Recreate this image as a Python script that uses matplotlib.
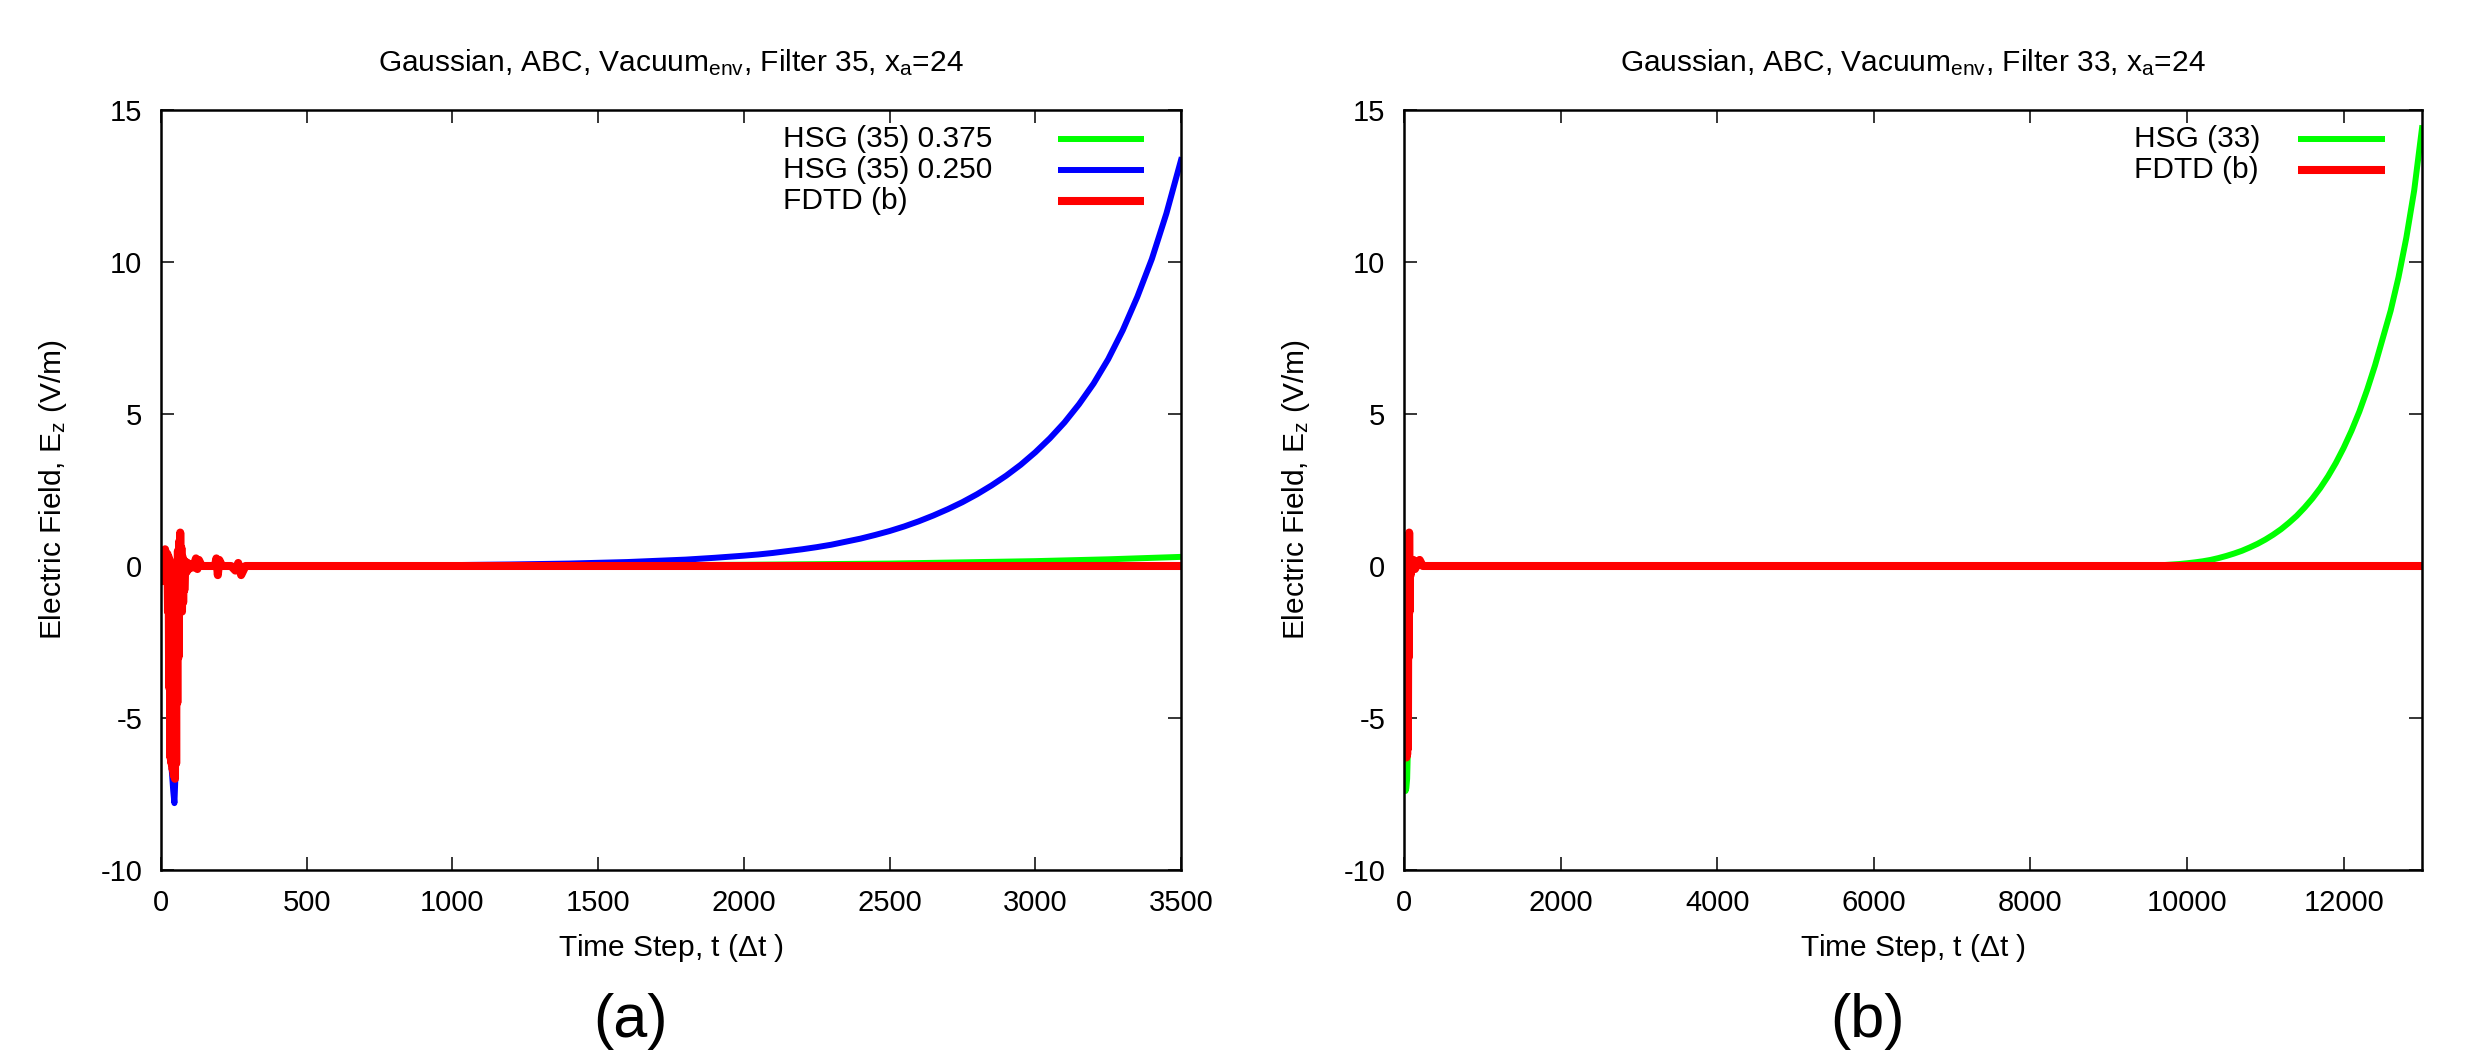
import matplotlib
matplotlib.use("Agg")
import matplotlib.pyplot as plt

plt.rcParams["font.family"] = ["Liberation Sans", "DejaVu Sans"]
plt.rcParams["font.size"] = 21
plt.rcParams["mathtext.fontset"] = "custom"
plt.rcParams["mathtext.rm"] = "Liberation Sans"
plt.rcParams["mathtext.it"] = "Liberation Sans:italic"
plt.rcParams["mathtext.default"] = "regular"
plt.rcParams["axes.unicode_minus"] = False

# ---- panel (a): filter 35, 0 .. 3500 time steps ----
# FDTD (b): fast oscillating transient near the source, then flat zero
fdtd_a_t = [0, 2, 4, 6, 8, 10, 12, 14, 16, 18, 20, 22, 24, 26, 28, 30, 32, 34, 36, 38,
            40, 42, 44, 46, 48, 50, 52, 54, 56, 58, 60, 62, 64, 66, 68, 70, 72, 74, 76, 78,
            80, 84, 88, 92, 96, 100, 110, 120, 125, 130, 140, 160, 185, 190, 195, 200,
            210, 240, 255, 265, 275, 290, 3500]
fdtd_a_e = [0.0, 0.45, -0.5, 0.35, -0.3, 0.5, -0.2, 0.55, -0.3, 0.3, -0.4, 0.4, -1.5, 0.3,
            -4.0, 0.2, -6.3, 0.0, -6.5, -0.5, -6.7, -0.8, -6.9, -1.0, -7.0, -1.2, -6.5, -0.5,
            -4.5, 0.5, -3.0, 0.8, -1.5, 1.1, -1.0, 0.6, -1.5, 0.3, -1.2, 0.1, -0.8, 0.15,
            -0.2, 0.1, -0.1, 0.05, -0.05, 0.25, -0.1, 0.2, 0.0, 0.0, 0.0, 0.25, -0.3, 0.2,
            0.0, 0.0, -0.15, 0.1, -0.3, 0.0, 0.0]

# HSG (35) 0.250 (blue)
hsg250_t = [0, 10, 20, 26, 30, 36, 42, 46, 50, 54, 60, 66, 72, 80, 100, 300, 600, 1000,
            1200, 1400, 1600, 1800, 1900, 2000, 2050, 2100, 2150, 2200, 2250, 2300, 2350,
            2400, 2450, 2500, 2550, 2600, 2650, 2700, 2750, 2800, 2850, 2900, 2950, 3000,
            3050, 3100, 3150, 3200, 3250, 3300, 3350, 3400, 3450, 3500]
hsg250_e = [0.0, 0.3, -0.3, -2.0, -5.5, -6.6, -7.4, -7.8, -6.8, -3.5, 0.5, 1.0, -1.2, 0.0,
            0.02, 0.0, 0.005, 0.03, 0.05, 0.08, 0.13, 0.21, 0.27, 0.34, 0.38, 0.43, 0.49,
            0.55, 0.62, 0.7, 0.8, 0.9, 1.02, 1.15, 1.3, 1.47, 1.66, 1.87, 2.1, 2.36, 2.65,
            2.97, 3.33, 3.74, 4.2, 4.72, 5.32, 6.0, 6.8, 7.75, 8.85, 10.1, 11.6, 13.35]

# HSG (35) 0.375 (green)
hsg375_t = [0, 10, 20, 26, 30, 36, 42, 46, 50, 54, 60, 66, 72, 80, 100, 500, 1000, 1500,
            2000, 2500, 3000, 3250, 3500]
hsg375_e = [0.0, 0.3, -0.3, -2.0, -5.3, -6.4, -7.0, -7.2, -6.5, -3.2, 0.4, 0.9, -1.0, 0.0,
            0.0, 0.0, 0.005, 0.02, 0.04, 0.08, 0.16, 0.22, 0.3]

# ---- panel (b): filter 33, 0 .. 13000 time steps ----
fdtd_b_t = [0, 5, 10, 15, 20, 25, 30, 35, 40, 45, 50, 55, 60, 66, 72, 78, 85, 100, 120,
            140, 160, 200, 240, 13000]
fdtd_b_e = [0.0, 0.4, -0.4, 0.5, -1.5, 0.2, -6.3, -0.5, -6.2, -1.0, -6.0, -0.5, -3.0, 1.1,
            -1.5, 0.2, -0.3, 0.1, 0.2, -0.1, 0.0, 0.2, 0.0, 0.0]

# HSG (33) (green)
hsg33_t = [0, 5, 10, 15, 20, 30, 40, 50, 60, 66, 72, 85, 100, 200, 2000, 6000, 8000, 9000,
           9500, 9700, 9900, 10000, 10100, 10200, 10300, 10400, 10500, 10600, 10700, 10800,
           10900, 11000, 11100, 11200, 11300, 11400, 11500, 11600, 11700, 11800, 11900,
           12000, 12100, 12200, 12300, 12400, 12500, 12600, 12700, 12800, 12900, 13000]
hsg33_e = [0.0, 0.4, -0.4, -3.0, -7.4, -7.3, -7.0, -6.0, -2.5, 1.0, -1.2, 0.0, 0.0, 0.0, 0.0,
           0.0, 0.0, 0.003, 0.01, 0.03, 0.065, 0.09, 0.12, 0.155, 0.2, 0.26, 0.33, 0.41,
           0.5, 0.61, 0.73, 0.87, 1.03, 1.21, 1.42, 1.65, 1.92, 2.22, 2.56, 2.95, 3.39,
           3.89, 4.45, 5.08, 5.8, 6.6, 7.5, 8.4, 9.5, 10.8, 12.35, 14.4]

GREEN = "#00ff00"
BLUE = "#0000ff"
RED = "#ff0000"
LW_HSG = 4.3
LW_FDTD = 5.8


def draw_key(ax, text_x, line_x0, line_x1, top_y, step):
    # gnuplot style key: left justified labels, samples to the right
    for i, line in enumerate(ax.get_lines()):
        y = top_y - i * step
        ax.text(text_x, y, line.get_label(), transform=ax.transAxes,
                ha="left", va="center", fontsize=21.5)
        ax.plot([line_x0, line_x1], [y, y], transform=ax.transAxes,
                color=line.get_color(), lw=line.get_linewidth(), clip_on=False,
                solid_capstyle="butt")


fig = plt.figure(figsize=(24.65, 10.6), dpi=100)
ax_a = fig.add_axes([161 / 2465, 1 - 870 / 1060, 1020 / 2465, 760 / 1060])
ax_b = fig.add_axes([1404 / 2465, 1 - 870 / 1060, 1018 / 2465, 760 / 1060])

ax_a.plot(hsg375_t, hsg375_e, color=GREEN, lw=LW_HSG, label="HSG (35) 0.375")
ax_a.plot(hsg250_t, hsg250_e, color=BLUE, lw=LW_HSG, label="HSG (35) 0.250")
ax_a.plot(fdtd_a_t, fdtd_a_e, color=RED, lw=LW_FDTD, label="FDTD (b)")

ax_b.plot(hsg33_t, hsg33_e, color=GREEN, lw=LW_HSG, label="HSG (33)")
ax_b.plot(fdtd_b_t, fdtd_b_e, color=RED, lw=LW_FDTD, label="FDTD (b)")

ax_a.set_xlim(0, 3500)
ax_a.set_xticks(range(0, 3501, 500))
ax_b.set_xlim(0, 13000)
ax_b.set_xticks(range(0, 12001, 2000))

titles = [r"Gaussian, ABC, Vacuum$_{\rm env}$, Filter 35, x$_{\rm a}$=24",
          r"Gaussian, ABC, Vacuum$_{\rm env}$, Filter 33, x$_{\rm a}$=24"]

for ax, title in zip([ax_a, ax_b], titles):
    ax.set_ylim(-10, 15)
    ax.set_yticks(range(-10, 16, 5))
    ax.tick_params(direction="in", length=9.4, width=1.1, top=True, right=True,
                   labelsize=21)
    ax.tick_params(axis="x", pad=14)
    ax.tick_params(axis="y", pad=13.5)
    for sp in ax.spines.values():
        sp.set_linewidth(1.8)
    ax.set_title(title, fontsize=21.5, y=1.062, va="center", pad=0)
    ax.set_xlabel(r"Time Step, t ($\Delta$t )", fontsize=21.5)
    ax.xaxis.set_label_coords(0.5, -0.1026)
    ax.xaxis.label.set_va("center")
    ax.set_ylabel(r"Electric Field, E$_{\rm z}$ (V/m)", fontsize=21.5)
    ax.yaxis.set_label_coords(-0.106, 0.5)
    ax.yaxis.label.set_va("center")

draw_key(ax_a, 0.6098, 0.8794, 0.9637, 0.9618, 0.0408)
draw_key(ax_b, 0.7171, 0.8782, 0.9637, 0.9618, 0.0408)

fig.text(630 / 2465, 1 - 1022 / 1060, "(a)", fontsize=44, ha="center", va="center")
fig.text(1868 / 2465, 1 - 1022 / 1060, "(b)", fontsize=44, ha="center", va="center")

fig.savefig("out.png", dpi=100)
